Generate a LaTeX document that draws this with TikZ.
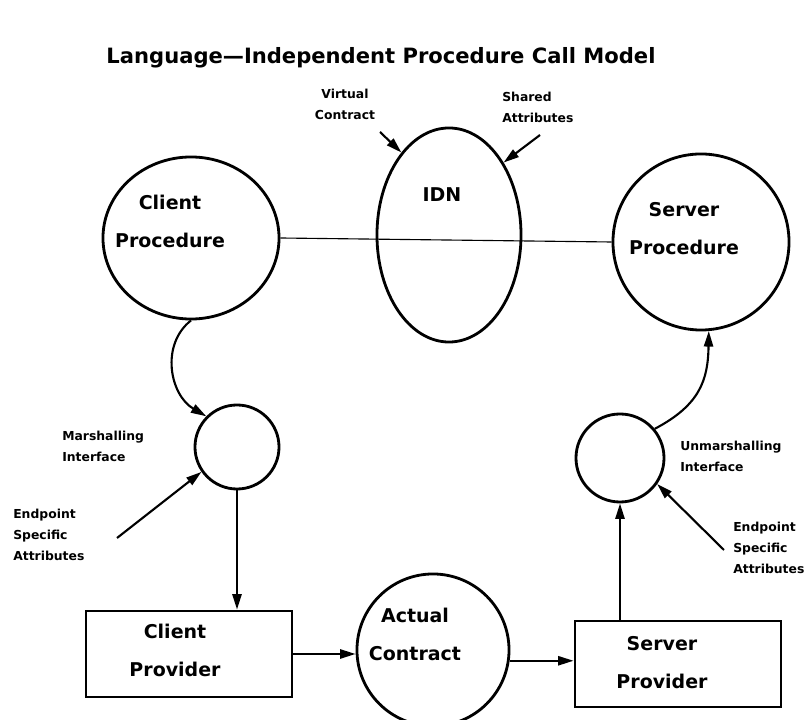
\documentclass[tikz,border=0pt]{standalone}
\usepackage{fontspec}
\setmainfont{DejaVu Sans}
\usetikzlibrary{arrows.meta, shapes.geometric}

\begin{document}
\begin{tikzpicture}[x=0.025cm, y=-0.025cm,
  bub/.style ={draw, ellipse, line width=2pt, inner sep=0pt},
  box/.style ={draw, rectangle, line width=2pt, minimum width=5.15cm,
               minimum height=2.15cm},
  big/.style ={align=center, inner sep=0pt,
               font=\fontsize{13.5}{27}\selectfont\bfseries},
  lbl/.style ={align=left, anchor=north west, inner sep=0pt,
               font=\fontsize{8.8}{15}\selectfont\bfseries},
  arr/.style ={-{Triangle[length=11pt, width=6.5pt]}, line width=1.5pt},
]
\useasboundingbox (0,0) rectangle (811,720);

\node[font=\fontsize{15}{18}\selectfont\bfseries] (title) at (381,58)
  {Language—Independent Procedure Call Model};

\node[bub, minimum width=4.4cm, minimum height=4.05cm] (cproc) at (191,238) {};
\node[bub, minimum size=4.4cm]                         (sproc) at (701,242) {};
\node[bub, minimum width=3.6cm, minimum height=5.35cm] (idn)   at (449,235) {};
\node[bub, minimum size=2.1cm]                         (mint)  at (237,447) {};
\node[bub, minimum size=2.2cm]                         (uint)  at (620,458) {};
\node[bub, minimum size=3.8cm]                         (act)   at (433,650) {};
\node[box] (cprov) at (189,654) {};
\node[box] (sprov) at (678,664) {};

\node[big] (cproct) at (170,221) {Client\\Procedure};
\node[big] (sproct) at (684,229) {Server\\Procedure};
\node[big] (idnt)   at (442,195) {IDN};
\node[big] (actt)   at (415,634) {Actual\\Contract};
\node[big] (cprovt) at (175,650) {Client\\Provider};
\node[big] (sprovt) at (662,663) {Server\\Provider};

\node[lbl, anchor=north, align=center] (vclbl) at (345,89) {Virtual\\Contract};
\node[lbl] (salbl) at (502,92)  {Shared\\Attributes};
\node[lbl] (mlbl)  at (62,431)  {Marshalling\\Interface};
\node[lbl] (ulbl)  at (680,441) {Unmarshalling\\Interface};
\node[lbl] (lepa)  at (13,509)  {Endpoint\\Specific\\Attributes};
\node[lbl] (repa)  at (733,522) {Endpoint\\Specific\\Attributes};

\coordinate (vctail)   at (380,132);
\coordinate (satail)   at (540,135);
\coordinate (lepatail) at (117,538);
\coordinate (repatail) at (724,550);

\draw[line width=0.8pt] (cproc.east) -- (sproc.west);

\draw[arr] (vctail) -- (idn.120);
\draw[arr] (satail) -- (idn.53);
\draw[arr] (cproc.south) .. controls (160,345) and (170,395) .. (mint.135);
\draw[arr] (lepatail) -- (mint.215);
\draw[arr] (mint.south) -- (mint.south |- cprov.north);
\draw[arr] (cprov.east) -- (cprov.east -| act.west);
\draw[arr] (act.-8) -- (act.-8 -| sprov.west);
\draw[arr] (uint.south |- sprov.north) -- (uint.south);
\draw[arr] (repatail) -- (uint.-35);
\draw[arr] (uint.40) .. controls (700,405) and (708,380) .. (sproc.275);
\end{tikzpicture}
\end{document}
